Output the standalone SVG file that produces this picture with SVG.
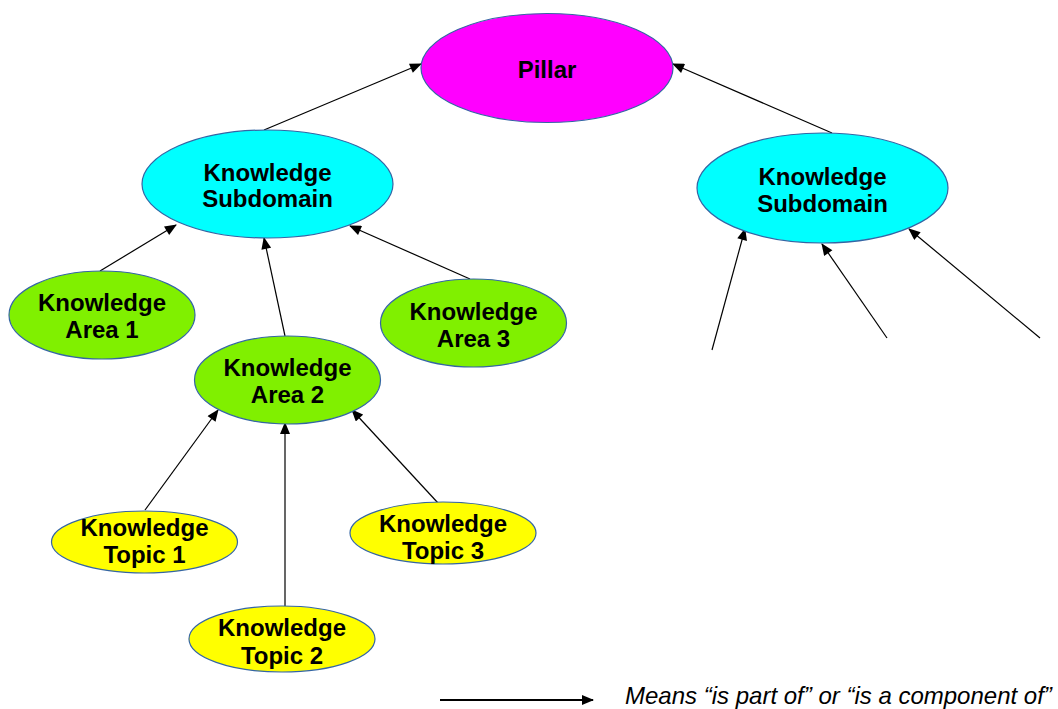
<svg xmlns="http://www.w3.org/2000/svg" width="1058" height="709" viewBox="0 0 1058 709">
<style>
.n{stroke:#3465a4;stroke-width:1.2}
.t{font-family:"Liberation Sans",Arial,sans-serif;font-weight:bold;font-size:24px;text-anchor:middle;fill:#000}
.c line{stroke:#000;stroke-width:1.2;marker-end:url(#ah)}
</style>
<defs>
<marker id="ah" viewBox="0 0 12 10" refX="11" refY="5" markerWidth="13" markerHeight="10" markerUnits="userSpaceOnUse" orient="auto">
<path d="M0,0 L12,5 L0,10 Z" fill="#000"/>
</marker>
</defs>
<rect width="1058" height="709" fill="#fff"/>
<g id="connectors" class="c">
<line x1="264" y1="130" x2="421" y2="64"/>
<line x1="832" y1="133" x2="673" y2="64"/>
<line x1="100" y1="271" x2="176" y2="225"/>
<line x1="285" y1="336" x2="264" y2="238"/>
<line x1="470" y1="279" x2="350" y2="226"/>
<line x1="145" y1="510" x2="218" y2="410"/>
<line x1="285" y1="606" x2="285" y2="423"/>
<line x1="438" y1="503" x2="352" y2="410"/>
<line x1="712" y1="350" x2="745" y2="229"/>
<line x1="887" y1="338" x2="822" y2="244"/>
<line x1="1040" y1="338" x2="909" y2="229"/>
<line x1="440" y1="700" x2="593" y2="700" style="stroke-width:1.8"/>
</g>
<g id="pillar"><ellipse class="n" cx="547" cy="68" rx="126" ry="54.5" fill="#ff00ff"/><text class="t" x="547" y="78">Pillar</text></g>
<g id="subdomain-left"><ellipse class="n" cx="267.5" cy="184" rx="125.5" ry="54" fill="#00ffff"/><text class="t" x="267.5" y="181">Knowledge</text><text class="t" x="267.5" y="207">Subdomain</text></g>
<g id="subdomain-right"><ellipse class="n" cx="822.5" cy="188" rx="125.5" ry="55" fill="#00ffff"/><text class="t" x="822.5" y="185">Knowledge</text><text class="t" x="822.5" y="212">Subdomain</text></g>
<g id="area1"><ellipse class="n" cx="102" cy="315" rx="93" ry="44" fill="#80f000"/><text class="t" x="102" y="311">Knowledge</text><text class="t" x="102" y="338">Area 1</text></g>
<g id="area2"><ellipse class="n" cx="287.5" cy="380" rx="93" ry="44" fill="#80f000"/><text class="t" x="287.5" y="376">Knowledge</text><text class="t" x="287.5" y="403">Area 2</text></g>
<g id="area3"><ellipse class="n" cx="473.5" cy="323" rx="93" ry="44" fill="#80f000"/><text class="t" x="473.5" y="320">Knowledge</text><text class="t" x="473.5" y="347">Area 3</text></g>
<g id="topic1"><ellipse class="n" cx="144.5" cy="542" rx="93" ry="31" fill="#ffff00"/><text class="t" x="144.5" y="536">Knowledge</text><text class="t" x="144.5" y="563">Topic 1</text></g>
<g id="topic2"><ellipse class="n" cx="282" cy="639" rx="93" ry="33" fill="#ffff00"/><text class="t" x="282" y="636">Knowledge</text><text class="t" x="282" y="664">Topic 2</text></g>
<g id="topic3"><ellipse class="n" cx="443" cy="533" rx="93" ry="31" fill="#ffff00"/><text class="t" x="443" y="532">Knowledge</text><text class="t" x="443" y="559">Topic 3</text></g>
<text x="625" y="704" font-family="'Liberation Sans',Arial,sans-serif" font-style="italic" font-size="24" fill="#000">Means “is part of” or “is a component of”</text>
</svg>
